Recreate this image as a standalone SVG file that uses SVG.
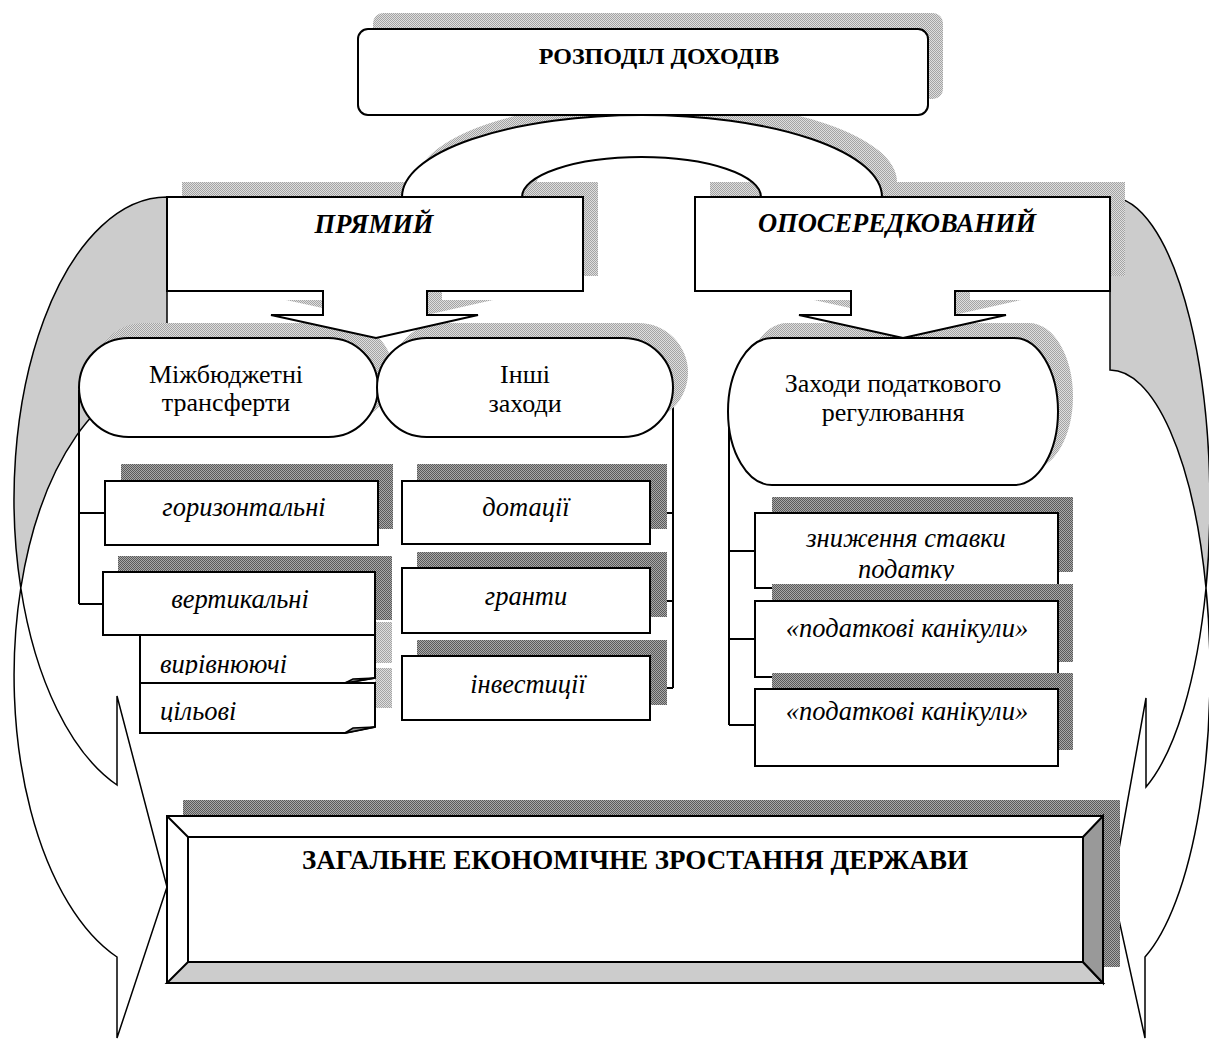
<svg xmlns="http://www.w3.org/2000/svg" width="1209" height="1041" viewBox="0 0 1209 1041" font-family="'Liberation Serif', 'DejaVu Serif', serif">
<defs>
<pattern id="lt" width="2" height="2" patternUnits="userSpaceOnUse">
<rect width="2" height="2" fill="#dedede"/><rect width="1" height="1" fill="#a4a4a4"/><rect x="1" y="1" width="1" height="1" fill="#a4a4a4"/>
</pattern>
<pattern id="dk" width="2" height="2" patternUnits="userSpaceOnUse">
<rect width="2" height="2" fill="#a8a8a8"/><rect width="1" height="1" fill="#5a5a5a"/><rect x="1" y="1" width="1" height="1" fill="#5a5a5a"/>
</pattern>
<clipPath id="clipA"><rect x="140" y="635" width="235" height="40"/></clipPath>
<clipPath id="clipB"><rect x="140" y="683" width="235" height="39"/></clipPath>
<clipPath id="clipC"><rect x="755" y="513" width="303" height="68"/></clipPath>
<path id="calloutL" d="M167,197 H583 V291 H427 V315 H478 L376,338 L271,315 H323 V291 H167 Z"/>
<path id="calloutR" d="M695,197 H1110 V291 H955 V315 H1006 L903,338 L799,315 H851 V291 H695 Z"/>
<path id="arch" d="M402,197 A240,82 0 0 1 882,197 L761,197 A119.5,40 0 0 0 522,197 Z"/>
</defs>
<style>
.s{stroke:#000;stroke-width:2;fill:#fff}
.ln{stroke:#000;stroke-width:2;fill:none}
.ar{stroke:#000;stroke-width:1.5}
.lt{fill:url(#lt)}
.dk{fill:url(#dk)}
.t{font-family:'Liberation Serif','DejaVu Serif',serif;fill:#000;text-anchor:middle}
.reg{font-size:26px}
.it{font-size:26.5px;font-style:italic}
.hd{font-size:26.5px;font-weight:bold;font-style:italic}
</style>
<rect width="1209" height="1041" fill="#fff"/>

<g id="connectors">
<path class="ar" fill="#cccccc" d="M167,197 A153,302 0 0 0 20.8,588 A153,298 0 0 1 167,378 Z"/>
<path class="ar" fill="#fff" d="M20.8,588 A153,302 0 0 0 117,785 L117,696 L167,887 L117,1038 L117,957 A153,298 0 0 1 20.8,588 Z"/>
<path class="ar" fill="#cccccc" d="M1110,197 A100,306 0 0 1 1206,588 A100,303 0 0 0 1110,370 Z"/>
<path class="ar" fill="#fff" d="M1206,588 A100,306 0 0 1 1146,787 L1146,698 L1112,888 L1145,1038 L1145,957 A100,303 0 0 0 1206,588 Z"/>
<path class="ln" d="M79,390 V604 M79,513 H105 M79,604 H103"/>
<path class="ln" d="M673,390 V688 M650,513 H673 M650,601 H673 M650,688 H673"/>
<path class="ln" d="M729,412 V725 M729,551 H755 M729,639 H755 M729,725 H755"/>
</g>

<g id="shadows">
<use href="#calloutL" class="lt" transform="translate(15,-15)"/>
<use href="#calloutR" class="lt" transform="translate(15,-15)"/>
<rect class="lt" x="373" y="13" width="570" height="86" rx="10"/>
<use href="#arch" class="lt" transform="translate(15,-15)"/>
<rect class="lt" x="94" y="323" width="299" height="99" rx="49.5"/>
<rect class="lt" x="392" y="323" width="296" height="99" rx="49.5"/>
<rect class="lt" x="743" y="323" width="330" height="147" rx="44" ry="73.5"/>
</g>

<g id="split-arc">
<use href="#arch" class="s"/>
</g>

<g id="n-root">
<rect class="s" x="358" y="29" width="570" height="86" rx="10"/>
<text class="t" x="659" y="64" font-size="24" font-weight="bold">РОЗПОДІЛ ДОХОДІВ</text>
</g>

<g id="n-direct">
<use href="#calloutL" class="s"/>
<text class="t hd" x="374" y="233">ПРЯМИЙ</text>
</g>

<g id="n-indirect">
<use href="#calloutR" class="s"/>
<text class="t hd" x="897" y="232">ОПОСЕРЕДКОВАНИЙ</text>
</g>

<g id="n-transfers">
<rect class="s" x="79" y="338" width="299" height="99" rx="49.5"/>
<text class="t reg" x="226" y="383">Міжбюджетні</text>
<text class="t reg" x="226" y="411">трансферти</text>
</g>

<g id="n-other">
<rect class="s" x="377" y="338" width="296" height="99" rx="49.5"/>
<text class="t reg" x="525" y="383">Інші</text>
<text class="t reg" x="525" y="412">заходи</text>
</g>

<g id="n-tax">
<rect class="s" x="728" y="338" width="330" height="147" rx="44" ry="73.5"/>
<text class="t reg" x="893" y="392">Заходи податкового</text>
<text class="t reg" x="893" y="421">регулювання</text>
</g>

<g id="n-horizontal">
<rect class="dk" x="121" y="464" width="272" height="65"/>
<rect class="s" x="105" y="481" width="273" height="64"/>
<text class="t it" x="244" y="516">горизонтальні</text>
</g>

<g id="n-vertical">
<rect class="lt" x="375" y="622" width="17" height="41"/>
<rect class="lt" x="375" y="668" width="17" height="40"/>
<rect class="dk" x="118" y="556" width="274" height="64"/>
<rect class="s" x="103" y="572" width="272" height="63"/>
<text class="t it" x="240" y="608">вертикальні</text>
</g>

<g id="n-equalizing">
<path class="s" d="M140,635 H375 V678 L345,683 H140 Z"/>
<path fill="#999" stroke="#000" stroke-width="1.5" d="M345,683 L353,679 L375,678 Z"/>
<text class="t it" x="160" y="673" style="text-anchor:start" clip-path="url(#clipA)">вирівнюючі</text>
</g>

<g id="n-targeted">
<path class="s" d="M140,683 H375 V727 L345,733 H140 Z"/>
<path fill="#999" stroke="#000" stroke-width="1.5" d="M345,733 L353,728 L375,727 Z"/>
<text class="t it" x="160" y="720" style="text-anchor:start" clip-path="url(#clipB)">цільові</text>
</g>

<g id="n-subsidies">
<rect class="dk" x="417" y="464" width="250" height="65"/>
<rect class="s" x="402" y="481" width="248" height="63"/>
<text class="t it" x="526" y="516">дотації</text>
</g>

<g id="n-grants">
<rect class="dk" x="417" y="552" width="250" height="65"/>
<rect class="s" x="402" y="568" width="248" height="65"/>
<text class="t it" x="526" y="605">гранти</text>
</g>

<g id="n-investments">
<rect class="dk" x="417" y="640" width="250" height="65"/>
<rect class="s" x="402" y="656" width="248" height="64"/>
<text class="t it" x="528" y="693">інвестиції</text>
</g>

<g id="n-rate">
<rect class="dk" x="772" y="497" width="301" height="75"/>
<rect class="s" x="755" y="513" width="303" height="75"/>
<g clip-path="url(#clipC)">
<text class="t it" x="906" y="547">зниження ставки</text>
<text class="t it" x="906" y="578">податку</text>
</g>
</g>

<g id="n-holidays1">
<rect class="dk" x="772" y="584" width="301" height="78"/>
<rect class="s" x="755" y="601" width="303" height="76"/>
<text class="t it" x="907" y="637">«податкові канікули»</text>
</g>

<g id="n-holidays2">
<rect class="dk" x="772" y="673" width="301" height="77"/>
<rect class="s" x="755" y="689" width="303" height="77"/>
<text class="t it" x="907" y="720">«податкові канікули»</text>
</g>

<g id="n-growth">
<rect class="dk" x="183" y="800" width="937" height="167"/>
<rect class="s" x="167" y="816" width="936" height="167"/>
<path fill="#cccccc" stroke="#000" stroke-width="2" d="M167,983 L188,962 H1083 L1103,983 Z"/>
<path fill="#999999" stroke="#000" stroke-width="2" d="M1103,816 L1083,837 V962 L1103,983 Z"/>
<path class="ln" d="M167,816 L188,837 M188,837 H1083 M188,837 V962"/>
<text class="t" x="635" y="869" font-size="27" font-weight="bold">ЗАГАЛЬНЕ ЕКОНОМІЧНЕ ЗРОСТАННЯ ДЕРЖАВИ</text>
</g>
</svg>
